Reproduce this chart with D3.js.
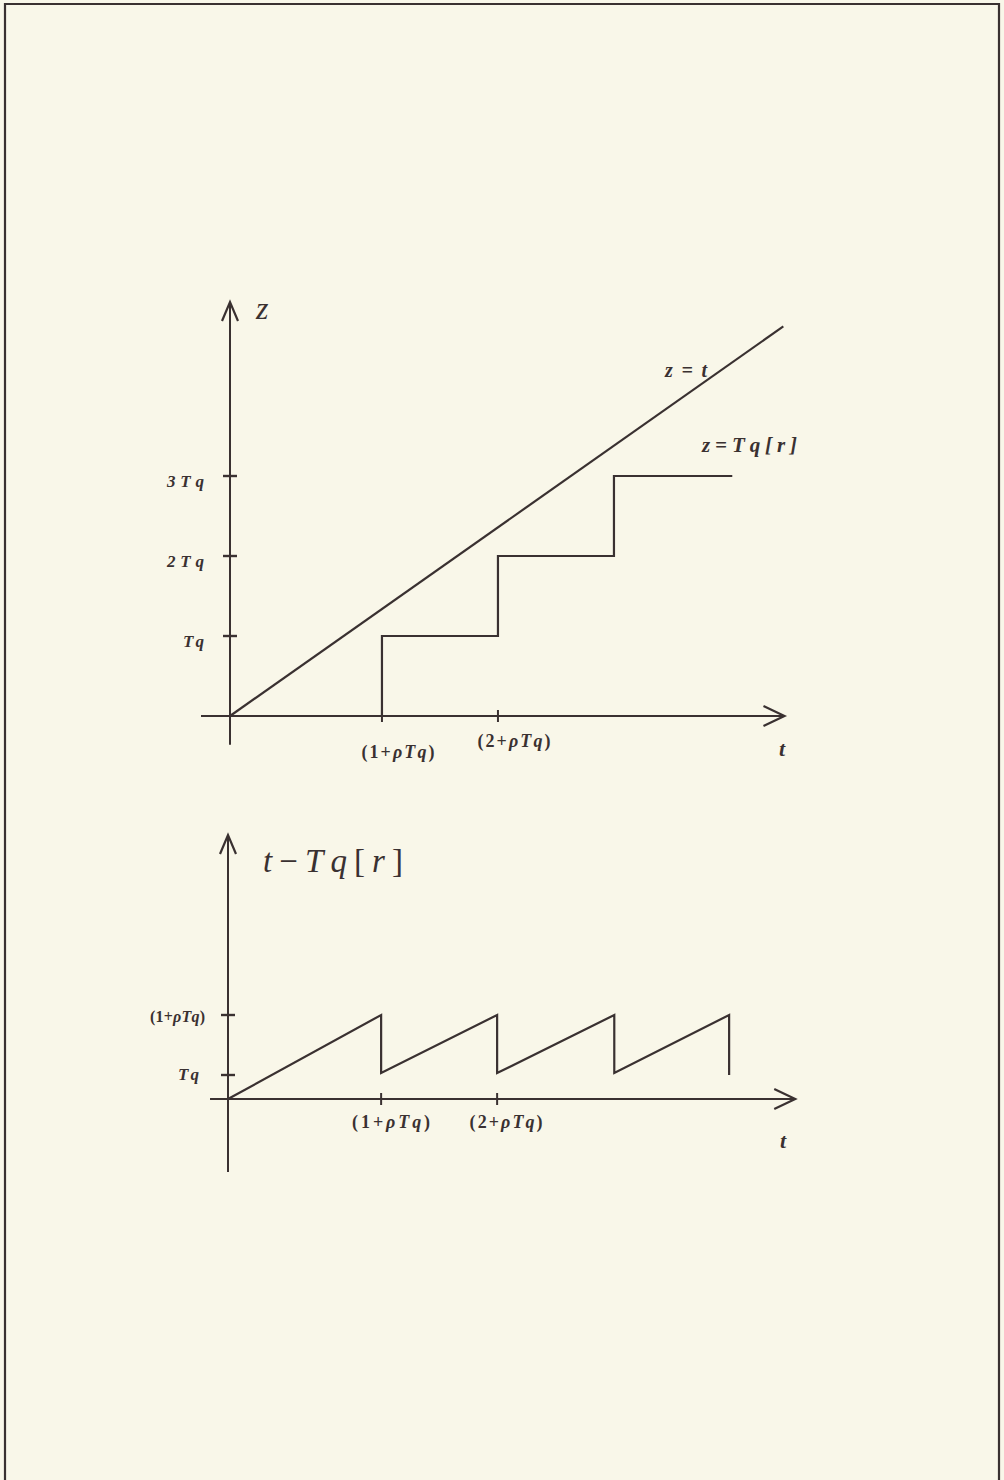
<!DOCTYPE html>
<html>
<head>
<meta charset="utf-8">
<script src="https://cdn.jsdelivr.net/npm/d3@7"></script>
<style>
  html, body { margin: 0; padding: 0; background: #f9f7e9; }
  svg { display: block; }
</style>
</head>
<body>
<svg id="fig" width="1004" height="1480"></svg>
<script>
// ---- Upper plot: z = t and the staircase z = Tq[r] ----
const rampT = [0, 4.77];                 // z = t line (t units)
const rampZ = [0, 4.87];
const stairT = [1.31, 1.31, 2.31, 2.31, 3.31, 3.31, 4.33];
const stairZ = [0, 1, 1, 2, 2, 3, 3];
const topYTicks = [1, 2, 3];
const topYLabels = ["Tq", "2Tq", "3Tq"];
const topXTicks = [1.31, 2.31];
const topXLabels = [["(1+", "ρTq", ")"], ["(2+", "ρTq", ")"]];

// ---- Lower plot: the sawtooth t − Tq[r] ----
const sawT = [0, 1.32, 1.32, 2.32, 2.32, 3.33, 3.33, 4.32, 4.32];
const sawV = [0, 3.5, 1.08, 3.5, 1.08, 3.5, 1.08, 3.5, 1.0];
const lowYTicks = [1, 3.5];
const lowYLabels = [["", "Tq", ""], ["(1+", "ρTq", ")"]];
const lowXTicks = [1.32, 2.32];
const lowXLabels = [["(1+", "ρTq", ")"], ["(2+", "ρTq", ")"]];

const INK = "#3a3131";
const svg = d3.select("#fig");

// page frame
svg.append("path")
  .attr("d", "M5,1480 V4 H999 V1480")
  .attr("fill", "none").attr("stroke", INK).attr("stroke-width", 2.2);

function labelText(g, parts, x, y, anchor, len, size) {
  const t = g.append("text")
    .attr("x", x).attr("y", y)
    .attr("text-anchor", anchor)
    .attr("font-family", "'Liberation Serif', 'DejaVu Serif', serif")
    .attr("font-weight", "bold")
    .attr("font-size", size)
    .attr("fill", INK);
  if (len) t.attr("textLength", len).attr("lengthAdjust", "spacing");
  parts.forEach((p, i) => {
    if (!p) return;
    t.append("tspan").text(p).attr("font-style", i === 1 ? "italic" : "normal");
  });
  return t;
}

function drawAxes(g, x, y, xExt, yExt) {
  const x0 = x(0), y0 = y(0);
  const xa = [x(xExt[0]), x(xExt[1])];
  const ya = [y(yExt[0]), y(yExt[1])];
  g.append("line").attr("x1", xa[0]).attr("x2", xa[1]).attr("y1", y0).attr("y2", y0)
    .attr("stroke", INK).attr("stroke-width", 2.2);
  g.append("line").attr("x1", x0).attr("x2", x0).attr("y1", ya[0]).attr("y2", ya[1])
    .attr("stroke", INK).attr("stroke-width", 2);
  // open arrowheads
  g.append("path")
    .attr("d", `M${xa[1] - 21},${y0 - 10} L${xa[1]},${y0} L${xa[1] - 21},${y0 + 10}`)
    .attr("fill", "none").attr("stroke", INK).attr("stroke-width", 2.2);
  g.append("path")
    .attr("d", `M${x0 - 8},${ya[1] + 19} L${x0},${ya[1]} L${x0 + 8},${ya[1] + 19}`)
    .attr("fill", "none").attr("stroke", INK).attr("stroke-width", 2.2);
}

function tickMarks(g, x, y, xs, ys) {
  xs.forEach(v => g.append("line")
    .attr("x1", x(v)).attr("x2", x(v)).attr("y1", y(0) - 6).attr("y2", y(0) + 6)
    .attr("stroke", INK).attr("stroke-width", 2));
  ys.forEach(v => g.append("line")
    .attr("x1", x(0) - 7).attr("x2", x(0) + 7).attr("y1", y(v)).attr("y2", y(v))
    .attr("stroke", INK).attr("stroke-width", 2.4));
}

// ================= upper plot =================
const xT = d3.scaleLinear().domain([0, 1]).range([230, 346]);
const yZ = d3.scaleLinear().domain([0, 1]).range([716, 636]);
const gTop = svg.append("g");
drawAxes(gTop, xT, yZ, [-0.25, 4.78], [-0.36, 5.175]);
tickMarks(gTop, xT, yZ, topXTicks, topYTicks);

const line = d3.line();
gTop.append("path")
  .attr("d", line(rampT.map((t, i) => [xT(t), yZ(rampZ[i])])))
  .attr("fill", "none").attr("stroke", INK).attr("stroke-width", 2.2);
gTop.append("path")
  .attr("d", line(stairT.map((t, i) => [xT(t), yZ(stairZ[i])])))
  .attr("fill", "none").attr("stroke", INK).attr("stroke-width", 2.2);

topYTicks.forEach((v, i) => {
  labelText(gTop, ["", topYLabels[i], ""], 204, yZ(v) + 11, "end",
    topYLabels[i].length > 2 ? 37 : 21, 17);
});
const topXdy = [42, 31];
topXTicks.forEach((v, i) => {
  labelText(gTop, topXLabels[i], xT(v) + 16, yZ(0) + topXdy[i], "middle", 73, 18);
});

gTop.append("text").text("z")
  .attr("x", 256).attr("y", 319)
  .attr("font-family", "'Liberation Serif', serif").attr("font-style", "italic")
  .attr("font-size", 32).attr("fill", INK);
gTop.append("text").text("t")
  .attr("x", 782).attr("y", 756).attr("text-anchor", "middle")
  .attr("font-family", "'Liberation Serif', serif").attr("font-style", "italic")
  .attr("font-weight", "bold").attr("font-size", 22).attr("fill", INK);
labelText(gTop, ["", "z=t", ""], 665, 377, "start", 42, 20);
labelText(gTop, ["", "z=Tq[r]", ""], 702, 452, "start", 95, 21);

// ================= lower plot =================
const xB = d3.scaleLinear().domain([0, 1]).range([228, 344]);
const yB = d3.scaleLinear().domain([0, 1]).range([1099, 1075]);
const gLow = svg.append("g");
drawAxes(gLow, xB, yB, [-0.155, 4.89], [-3.04, 11.0]);
tickMarks(gLow, xB, yB, lowXTicks, lowYTicks);

gLow.append("path")
  .attr("d", line(sawT.map((t, i) => [xB(t), yB(sawV[i])])))
  .attr("fill", "none").attr("stroke", INK).attr("stroke-width", 2.2);

lowYTicks.forEach((v, i) => {
  const long = lowYLabels[i][0] !== "";
  labelText(gLow, lowYLabels[i], long ? 205 : 199, yB(v) + (long ? 7 : 5), "end",
    long ? 55 : 21, long ? 16 : 17);
});
lowXTicks.forEach((v, i) => {
  labelText(gLow, lowXLabels[i], xB(v) + (i === 0 ? 10 : 9), yB(0) + 29, "middle",
    i === 0 ? 78 : 73, 18);
});

gLow.append("text")
  .attr("x", 263).attr("y", 872)
  .attr("textLength", 140).attr("lengthAdjust", "spacing")
  .attr("font-family", "'Liberation Serif', serif")
  .attr("font-size", 33).attr("fill", INK)
  .call(t => {
    t.append("tspan").attr("font-style", "italic").text("t");
    t.append("tspan").text("−");
    t.append("tspan").attr("font-style", "italic").text("Tq");
    t.append("tspan").text("[");
    t.append("tspan").attr("font-style", "italic").text("r");
    t.append("tspan").text("]");
  });
gLow.append("text").text("t")
  .attr("x", 783).attr("y", 1148).attr("text-anchor", "middle")
  .attr("font-family", "'Liberation Serif', serif").attr("font-style", "italic")
  .attr("font-weight", "bold").attr("font-size", 22).attr("fill", INK);
</script>
</body>
</html>
